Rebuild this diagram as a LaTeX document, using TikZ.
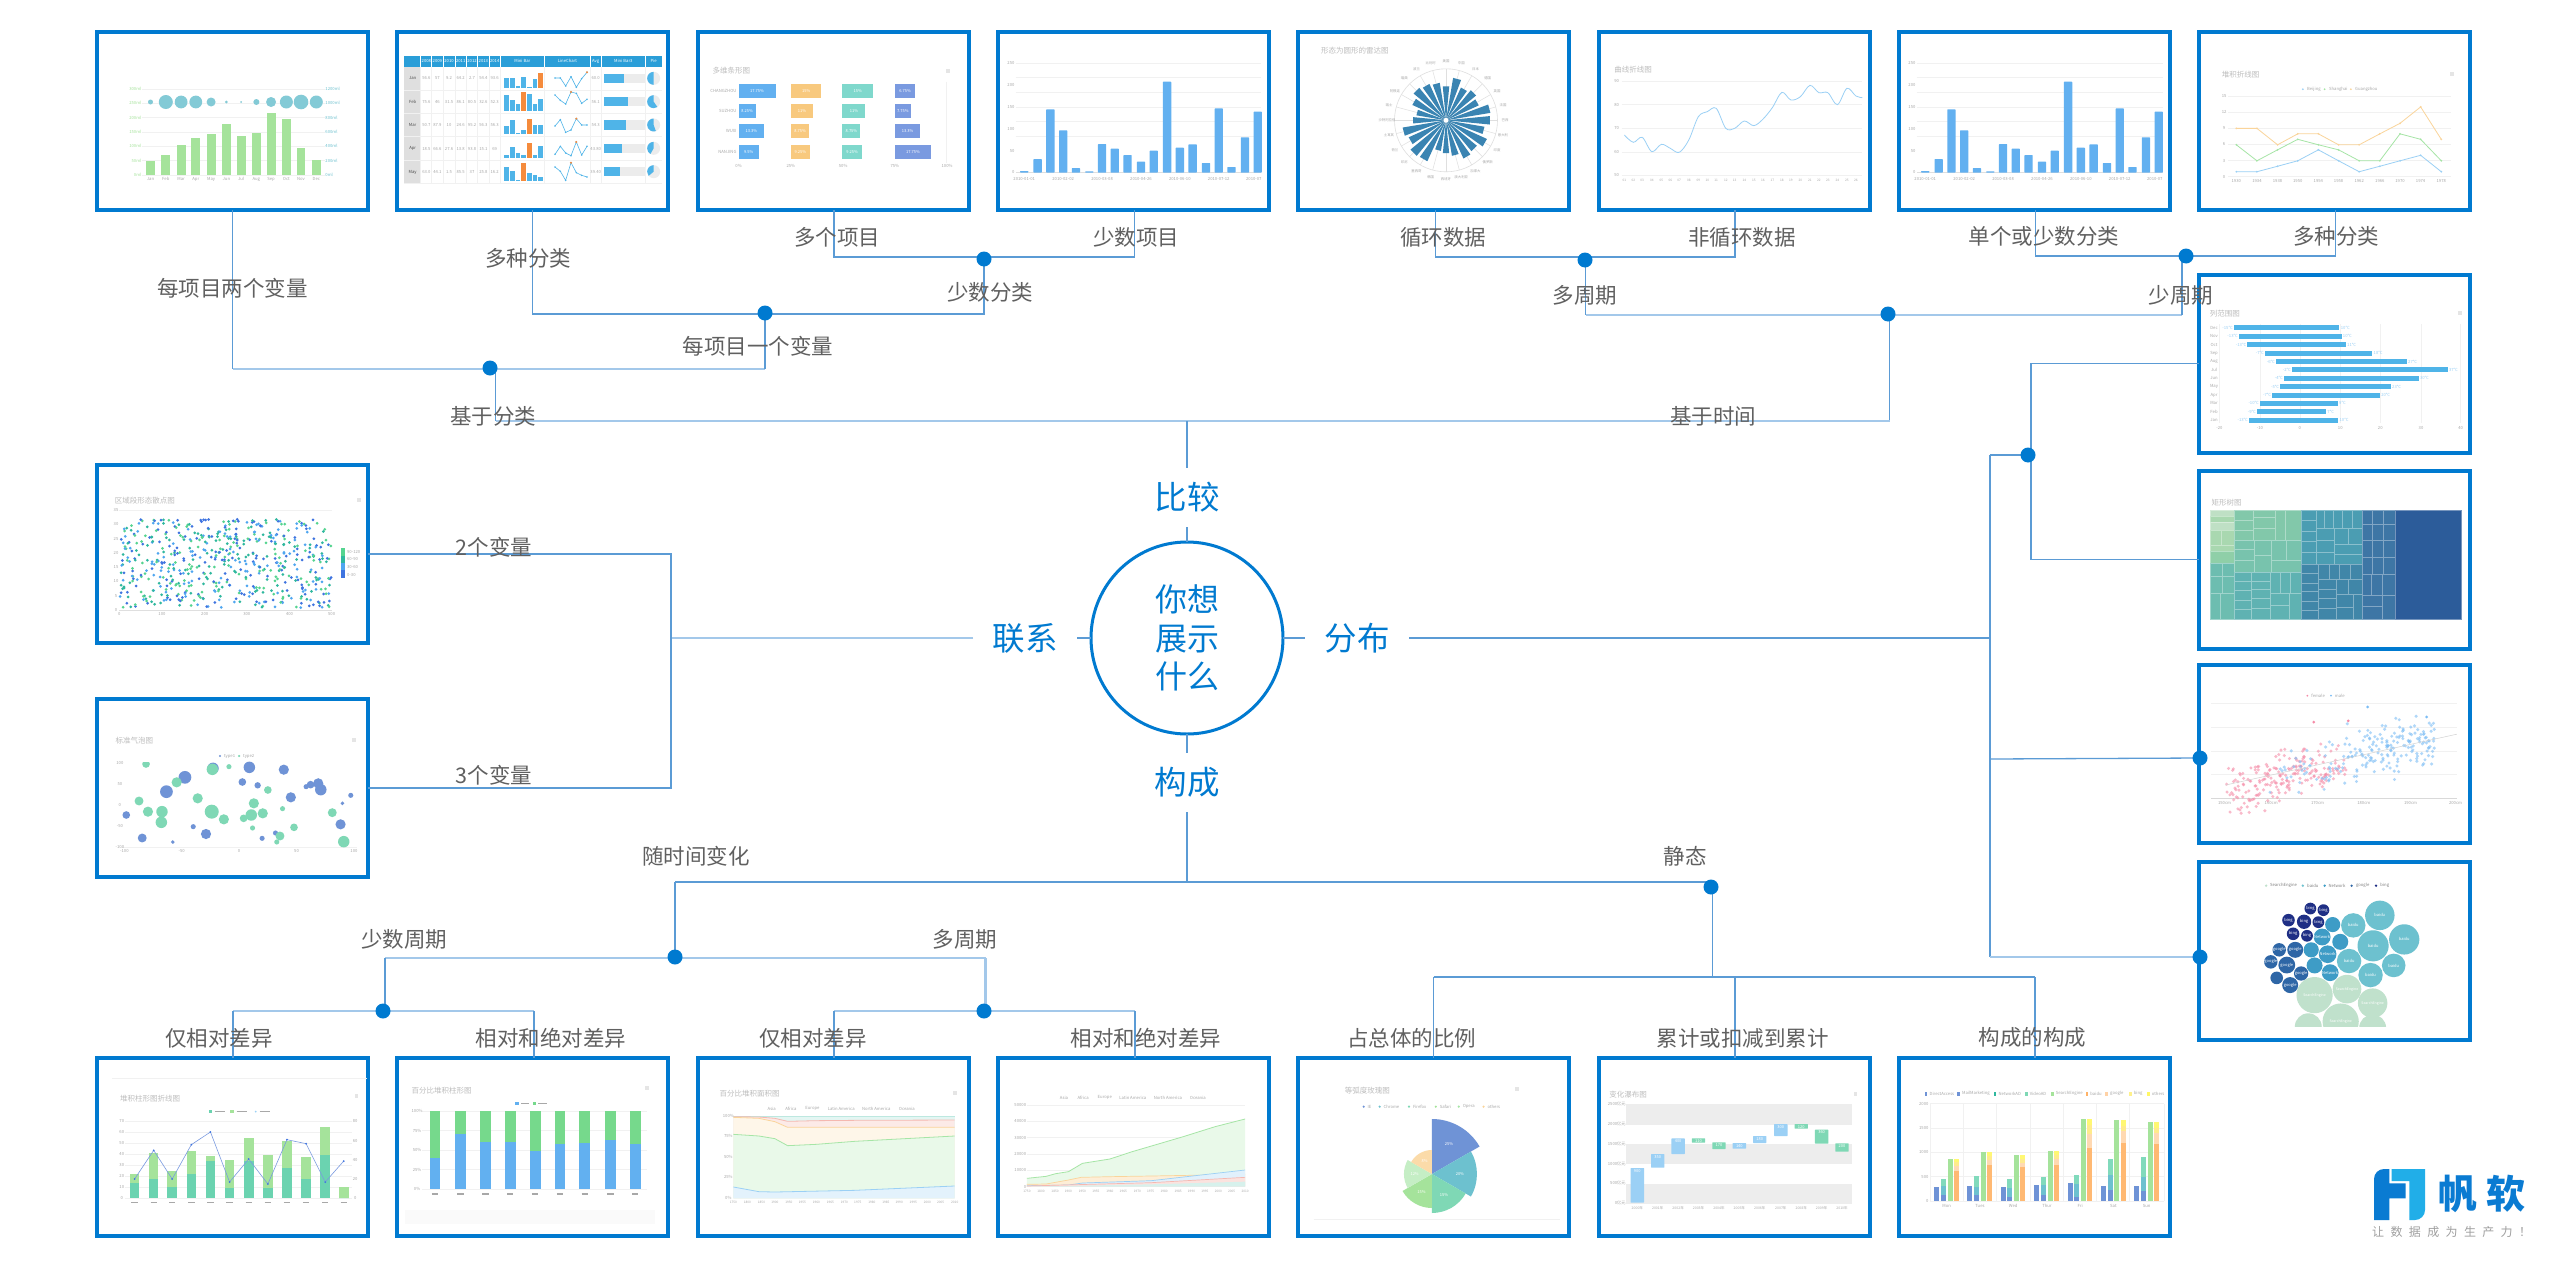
\documentclass[tikz,border=0pt]{standalone}
\usepackage{fontspec}
\usetikzlibrary{calc}
\setmainfont{Noto Sans CJK SC}
\definecolor{mainb}{HTML}{007AD0}
\definecolor{lineb}{HTML}{5B9BD5}
\definecolor{softb}{HTML}{A3C8EA}
\definecolor{labg}{HTML}{606060}
\definecolor{gridg}{HTML}{F1F1F1}
\definecolor{tickg}{HTML}{A8A8A8}
\definecolor{ttlg}{HTML}{BDBDBD}
\definecolor{gbar}{HTML}{A5E39B}
\definecolor{tbar}{HTML}{6BD3B0}
\definecolor{bbar}{HTML}{62B0F0}
\definecolor{obar}{HTML}{F58B3C}
\definecolor{yelbar}{HTML}{F8C97E}
\definecolor{cbar}{HTML}{7FD8CC}
\definecolor{pbar}{HTML}{7A9AE0}
\definecolor{tblb}{HTML}{2A9ED8}
\definecolor{cellb}{HTML}{4FB4E8}
\definecolor{roseb}{HTML}{3A84B2}
\definecolor{lblue}{HTML}{9BD0F5}
\definecolor{lgreen}{HTML}{A6E5A6}
\definecolor{lorange}{HTML}{FAD49A}
\definecolor{lpink}{HTML}{F5B8B0}
\definecolor{lteal}{HTML}{BDE8E0}
\definecolor{s1}{HTML}{3F74E0}
\definecolor{s2}{HTML}{4FA6F0}
\definecolor{s3}{HTML}{55D490}
\definecolor{s4}{HTML}{2FB89E}
\definecolor{bbl}{HTML}{6F93D6}
\definecolor{bgr}{HTML}{7FD8B5}
\definecolor{c1}{HTML}{C0E1CC}
\definecolor{c2}{HTML}{6DC1CF}
\definecolor{c3}{HTML}{3E9CC6}
\definecolor{c4}{HTML}{2E66A6}
\definecolor{c5}{HTML}{1F2F85}
\definecolor{logod}{HTML}{0A7BD2}
\definecolor{logol}{HTML}{21AEE8}
\definecolor{pinkp}{HTML}{F58CA8}
\definecolor{bluep}{HTML}{7CBDF5}
\definecolor{gstack}{HTML}{76D98C}
\tikzset{
  boxn/.style={draw=mainb,line width=4pt,fill=white,minimum width=271pt,minimum height=178pt,inner sep=0pt,outer sep=0pt},
  conn/.style={draw=lineb,line width=1.3pt},
  soft/.style={draw=softb,line width=2.4pt},
  dotn/.style={circle,fill=mainb,minimum size=15pt,inner sep=0pt,outer sep=0pt},
  lab/.style={text=labg,font=\fontsize{21.5}{24}\selectfont,inner sep=0pt},
  dirn/.style={text=mainb,font=\fontsize{32.5}{36}\selectfont,inner sep=0pt,outer sep=0pt,minimum width=104pt,minimum height=59pt},
  hubn/.style={circle,draw=mainb,line width=3pt,minimum size=192pt,inner sep=0pt,outer sep=0pt,text=mainb,align=center,font=\fontsize{32}{38.5}\selectfont},
  tl/.style={text=tickg,font=\fontsize{4.2}{5}\selectfont,inner sep=0pt},
  tw/.style={text=white,font=\fontsize{4}{5}\selectfont,inner sep=0pt},
  ttl/.style={text=ttlg,font=\fontsize{7.5}{9}\selectfont,inner sep=0pt,anchor=west},
  fineg/.style={draw=gridg,line width=0.7pt},
  zA/.style={x=0.63775pt,y=-0.33333pt},
  zB/.style={x=0.42088pt,y=-0.42088pt},
  zC/.style={x=0.42088pt,y=-0.40080pt},
  zT/.style={x=0.33333pt,y=-0.33333pt}
}
\newcommand{\mybars}{%
  \foreach \g in {189,233,277,321,365,409}{\draw[fineg] (25,\g) -- (410,\g);}
  \draw[draw=gray!25,line width=.8pt] (25,518) -- (410,518);
  \foreach \x/\t in {38/513,59/477,79/328,99/391,119/504,140/514,160/432,180/446,200/465,221/485,241/452,262/245,282/443,302/433,323/489,343/325,363/501,384/412,404/335}{
    \fill[bbar,rounded corners=.6pt] (\x-6.5,518) rectangle (\x+6.5,\t);}
  \foreach \y/\s in {189/250,255/200,321/150,387/100,453/50,517/0}{\node[tl,anchor=east] at (23,\y) {\s};}
  \foreach \x/\s in {38/2010-01-01,99/2010-02-02,160/2010-03-08,221/2010-04-26,282/2010-06-10,343/2010-07-12,398/2010-07}{\node[tl] at (\x,536) {\s};}
}
\begin{document}
\begin{tikzpicture}[x=1pt,y=-1pt]
\useasboundingbox (0,0) rectangle (2560,1269);
\fill[white] (0,0) rectangle (2560,1269);

% ---------- chart frames ----------
\node[boxn] (t1) at (232.5,121) {};
\node[boxn] (t2) at (532.5,121) {};
\node[boxn] (t3) at (833.5,121) {};
\node[boxn] (t4) at (1133.5,121) {};
\node[boxn] (t5) at (1433.5,121) {};
\node[boxn] (t6) at (1734.5,121) {};
\node[boxn] (t7) at (2034.5,121) {};
\node[boxn] (t8) at (2334.5,121) {};
\node[boxn] (r1) at (2334.5,363.5) {};
\node[boxn] (r2) at (2334.5,559.5) {};
\node[boxn] (r3) at (2334.5,753.5) {};
\node[boxn] (r4) at (2334.5,950.5) {};
\node[boxn] (l1) at (232.5,554) {};
\node[boxn] (l2) at (232.5,788) {};
\node[boxn] (b1) at (232.5,1146.5) {};
\node[boxn] (b2) at (532.5,1146.5) {};
\node[boxn] (b3) at (833.5,1146.5) {};
\node[boxn] (b4) at (1133.5,1146.5) {};
\node[boxn] (b5) at (1433.5,1146.5) {};
\node[boxn] (b6) at (1734.5,1146.5) {};
\node[boxn] (b7) at (2034.5,1146.5) {};

% ---------- centre ----------
\node[hubn] (hub) at (1187,638) {你想\\展示\\什么};
\node[dirn] (cmp) at (1187,497.5) {比较};
\node[dirn] (cps) at (1187,782.5) {构成};
\node[dirn] (rel) at (1025,638) {联系};
\node[dirn] (dis) at (1357,638) {分布};

% ---------- corner coordinates ----------
\coordinate (d1) at (490,368);
\coordinate (d2) at (765,313);
\coordinate (d3) at (984,259);
\coordinate (d4) at (1585,260);
\coordinate (d5) at (1888,314);
\coordinate (d6) at (2186,256);
\coordinate (d7) at (2028,455);
\coordinate (d8) at (2200,758);
\coordinate (d9) at (2200,957);
\coordinate (d10) at (1711,887);
\coordinate (d11) at (675,957);
\coordinate (d12) at (383,1011);
\coordinate (d13) at (984,1011);
\coordinate (c369a) at (495.5,369);
\coordinate (c369b) at (765,369);
\coordinate (c314a) at (984,314);
\coordinate (c257a) at (834,257);
\coordinate (c257b) at (1134.5,257);
\coordinate (c257c) at (1435.5,257);
\coordinate (c257d) at (1735,257);
\coordinate (c257e) at (2035.5,256);
\coordinate (c257f) at (2335.5,256);
\coordinate (c257g) at (1585.5,257);
\coordinate (c315a) at (1585.5,315);
\coordinate (c315b) at (1889.5,315);
\coordinate (c256a) at (2182,256);
\coordinate (c315c) at (2182,315);
\coordinate (c421a) at (495.5,421);
\coordinate (c421m) at (1187,421);
\coordinate (c421b) at (1889.5,421);
\coordinate (c638a) at (671,638);
\coordinate (c638b) at (1990,638);
\coordinate (c455a) at (1990,455);
\coordinate (c455b) at (2031,455);
\coordinate (c759) at (1990,759);
\coordinate (c957) at (1990,957);
\coordinate (c882a) at (675,882);
\coordinate (c882b) at (1712.5,882);
\coordinate (c958a) at (675,958);
\coordinate (c958b) at (385,958);
\coordinate (c958c) at (985.5,958);
\coordinate (c1011a) at (233,1011);
\coordinate (c1011b) at (534,1011);
\coordinate (c1011c) at (834,1011);
\coordinate (c1011d) at (1135,1011);
\coordinate (c1011e) at (385,1011);
\coordinate (c1011f) at (985.5,1011);
\coordinate (c977a) at (1433.5,977);
\coordinate (c977b) at (2035,977);
\coordinate (c977m) at (1712.5,977);
\coordinate (c977c) at (1735,977);

% ---------- connectors: comparison ----------
\draw[conn] (t1.south) -- (t1.south|-c369a);
\draw[soft] (t1.south|-c369a) -- (c369b);
\draw[conn] (c369b) -- (d2);
\draw[conn] (t2.south) |- (c314a) -- (d3);
\draw[conn] (c257a|-t3.south) -- (c257a) -- (c257b) -- (c257b|-t4.south);
\draw[conn] (c257c|-t5.south) -- (c257c) -- (c257d) -- (c257d|-t6.south);
\draw[conn] (c257e|-t7.south) -- (c257e) -- (c257f) -- (c257f|-t8.south);
\draw[conn] (c257g) -- (c315a);
\draw[soft] (c315a) -- (c315b);
\draw[soft] (c315b) -- (c315c);
\draw[conn] (c256a) -- (c315c);
\draw[conn] (c315b) -- (c421b);
\draw[conn] (c369a) -- (c421a);
\draw[soft] (c421a) -- (c421b);
\draw[conn] (c421m) -- (cmp.north);
\draw[conn] (cmp.south) -- (hub.north);
\draw[conn] (hub.south) -- (cps.north);
\draw[conn] (hub.west) -- (rel.east);
\draw[conn] (hub.east) -- (dis.west);
% relation
\draw[soft] (rel.west) -- (c638a);
\draw[conn] (l1.east) -| (c638a);
\draw[conn] (l2.east) -| (c638a);
% distribution
\draw[conn] (dis.east) -- (c638b);
\draw[conn] (c455a) -- (c957);
\draw[conn] (c455a) -- (c455b);
\draw[conn] (r1.west) -| (c455b);
\draw[conn] (c455b) |- (r2.west);
\draw[conn] (c759) -- (d8);
\draw[soft] (c957) -- (d9);
% composition
\draw[conn] (cps.south) -- (cps.south|-c882a);
\draw[conn] (c882a) -- (c882b) -- (c977m);
\draw[conn] (c882a) -- (c958a);
\draw[soft] (c958b) -- (c958c);
\draw[soft] (c958c) -- (c1011f);
\draw[conn] (c958b) -- (c1011e);
\draw[soft] (c1011a) -- (c1011b);
\draw[soft] (c1011c) -- (c1011d);
\draw[conn] (c1011a) -- (c1011a|-b1.north);
\draw[conn] (c1011b) -- (c1011b|-b2.north);
\draw[conn] (c1011c) -- (c1011c|-b3.north);
\draw[conn] (c1011d) -- (c1011d|-b4.north);
\draw[conn] (c977a) -- (c977b);
\draw[conn] (c977a) -- (b5.north);
\draw[conn] (c977b) -- (c977b|-b7.north);
\draw[conn] (c977c) -- (c977c|-b6.north);

% ---------- t1: bars and bubbles ----------
\begin{scope}[zA]
\foreach \g in {267,310,353,396,439,482}{\draw[fineg] (222,\g) -- (510,\g);}
\draw[fineg] (222,525) -- (510,525);
\foreach \x/\t in {236/483,260/465,284/434,307/414,331/401,355/372,378/408,402/398,425/340,449/358,472/443,496/480}{\fill[gbar] (\x-7,525) rectangle (\x+7,\t);}
\foreach \x/\rr in {236/2.5,260/7,284/6.4,307/6.4,331/4.5,355/1.5,378/1,402/3,425/5,449/6.5,472/7.3,496/6.5}{\fill[c2!85!white] (\x,306) circle (\rr pt);}
\foreach \y/\s in {525/0ml,482/50ml,439/100ml,396/150ml,353/200ml,310/250ml,267/300ml}{\node[tl,text=gbar,anchor=east] at (222,\y) {\s};}
\foreach \y/\s in {525/0ml,482/200ml,439/400ml,396/600ml,353/800ml,310/1000ml,267/1200ml}{\node[tl,text=c2,anchor=west] at (510,\y) {\s};}
\foreach \x/\s in {236/Jan,260/Feb,284/Mar,307/Apr,331/May,355/Jun,378/Jul,402/Aug,425/Sep,449/Oct,472/Nov,496/Dec}{\node[tl] at (\x,538) {\s};}
\end{scope}

% ---------- t2: table ----------
\begin{scope}[shift={(395,40)},zT]
\fill[tblb] (28,47) rectangle (800,80);
\fill[gray!25] (28,80) rectangle (77,432);
\foreach \x in {77,110,145,180,214,248,283,316,448,586,619,752}{\draw[white,line width=.4pt] (\x,47) -- (\x,80); \draw[gridg,line width=.4pt] (\x,80) -- (\x,432);}
\foreach \y in {150,220,290,360,430}{\draw[gridg,line width=.6pt] (28,\y) -- (800,\y);}
\foreach \x/\s in {94/2008,127/2009,162/2010,197/2011,231/2012,265/2013,299/2014,382/Mini Bar,517/LineChart,602/Avg,685/Mini Bar3,776/Pie}{\node[tl,text=white] at (\x,63) {\s};}
\foreach \y/\s in {115/Jan,186/Feb,256/Mar,326/Apr,396/May}{\node[tl,text=black!70] at (53,\y) {\s};}
\foreach \y/\va/\vb/\vc/\vd/\ve/\vf/\vg/\vh in {115/56.6/57/9.2/64.2/2.7/54.4/93.6/60.0,186/75.6/46/31.5/86.1/80.5/32.6/52.3/56.1,256/50.7/87.9/10/24.6/95.2/56.3/56.3/54.3,326/18.5/66.6/27.6/13.8/93.8/15.1/69/43.80,396/63.0/44.1/1.5/85.5/37/25.8/16.2/39.40}{
 \node[tl] at (94,\y) {\va};\node[tl] at (127,\y) {\vb};\node[tl] at (162,\y) {\vc};\node[tl] at (197,\y) {\vd};\node[tl] at (231,\y) {\ve};\node[tl] at (265,\y) {\vf};\node[tl] at (299,\y) {\vg};\node[tl] at (602,\y) {\vh};}
% mini bars
\foreach \bs/\va/\vb/\vc/\vd/\ve/\vf/\vg/\mx/\mh in {143/28/28/5/32/2/26/45/430/45,213/47/32/21/57/52/21/35/379/57,283/24/44/5/12/46/27/27/396/46,353/9/32/14/7/45/8/34/396/45,423/41/29/2/55/24/18/12/379/55}{
 \foreach \x/\hh in {328/\va,345/\vb,362/\vc,379/\vd,396/\ve,413/\vf,430/\vg}{\fill[cellb] (\x,\bs) rectangle (\x+14,\bs-\hh);}
 \fill[obar] (\mx,\bs) rectangle (\mx+14,\bs-\mh);}
% sparklines
\foreach \va/\vb/\vc/\vd/\ve/\vf/\vg in {114/114/138/110/142/116/97,165/181/192/156/160/190/178,258/239/277/270/236/255/255,343/319/339/347/306/345/319,381/394/421/368/398/406/411}{
 \draw[cellb,line width=.6pt] (480,\va) -- (496,\vb) -- (512,\vc) -- (528,\vd) -- (544,\ve) -- (560,\vf) -- (576,\vg);
 \foreach \x/\vv in {480/\va,496/\vb,512/\vc,528/\vd,544/\ve,560/\vf,576/\vg}{\fill[cellb] (\x,\vv) circle (.9pt);}}
\fill[obar] (576,97) circle (1.1pt);\fill[obar] (528,156) circle (1.1pt);\fill[obar] (544,236) circle (1.1pt);\fill[obar] (544,306) circle (1.1pt);\fill[obar] (528,368) circle (1.1pt);
% mini bar 3 and pies
\foreach \y/\w/\sw in {115/59/180,185/70/215,255/66/200,325/53/150,395/48/130}{
 \fill[gray!15] (628,\y-14) rectangle (750,\y+14);
 \fill[cellb] (628,\y-14) rectangle (628+\w,\y+14);
 \fill[gray!15] (776,\y) circle (6.5pt);
 \fill[cellb] (776,\y) -- +(90:6.5pt) arc[start angle=90,delta angle=\sw,radius=6.5pt] -- cycle;}
\end{scope}

% ---------- t3: multi-bar ----------
\begin{scope}[zA]
\node[ttl] at (1117,213) {多维条形图};
\fill[gray!20] (1483,207) rectangle (1489,218);
\draw[fineg] (1484,245) -- (1484,488);
\foreach \y/\s in {273/CHANGZHOU,334/SUZHOU,394/WUXI,455/NANJING}{\node[tl,anchor=east] at (1155,\y) {\s};}
\foreach \x/\s in {1158/0\%,1240/25\%,1322/50\%,1403/75\%,1485/100\%}{\node[tl] at (\x,498) {\s};}
\foreach \y/\va/\vb/\vc/\vd/\sa/\sb/\sc/\sd in {273/58/48/48/32/17.75\%/15\%/15\%/6.75\%,334/27/35/36/25/8.25\%/11\%/11\%/7.75\%,394/40/29/28/40/13.3\%/8.75\%/8.75\%/13.3\%,455/32/30/30/57/9.5\%/9.25\%/9.25\%/17.75\%}{
 \fill[bbar] (1158,\y-21) rectangle (1158+\va,\y+21); \node[tw] at (1158+\va/2,\y) {\sa};
 \fill[yelbar] (1240,\y-21) rectangle (1240+\vb,\y+21); \node[tw] at (1240+\vb/2,\y) {\sb};
 \fill[cbar] (1321,\y-21) rectangle (1321+\vc,\y+21); \node[tw] at (1321+\vc/2,\y) {\sc};
 \fill[pbar] (1403,\y-21) rectangle (1403+\vd,\y+21); \node[tw] at (1403+\vd/2,\y) {\sd};}
\end{scope}

% ---------- t4 and t7: column chart ----------
\begin{scope}[shift={(1000,0)},zA]\mybars\end{scope}
\begin{scope}[shift={(1901,0)},zA]\mybars\end{scope}

% ---------- t5: rose radar ----------
\begin{scope}
\node[ttl] at (1321,51) {形态为圆形的雷达图};
\draw[gray!25,line width=.6pt] (1446,120.3) circle (51.5pt);
\foreach \a in {0,15,...,345}{\draw[gray!25,line width=.5pt] (1446,120.3) -- +({90-\a}:51.5pt);}
\foreach \a/\rr in {0/34,15/43,30/36,45/39,60/36,75/45,90/44,105/39,120/45,135/40,150/42,165/36,180/33,195/31,210/45,225/46,240/41,255/44,270/33,285/30,300/37,315/42,330/40,345/38}{
 \fill[roseb] (1446,120.3) -- +({90-\a+5.5}:\rr pt) -- +({90-\a-5.5}:\rr pt) -- cycle;}
\fill[white] (1446,120.3) circle (2.5pt);
\foreach \a/\s in {0/美国,15/中国,30/日本,45/德国,60/英国,75/法国,90/巴西,105/意大利,120/印度,135/俄罗斯,150/加拿大,165/澳大利亚,180/西班牙,195/韩国,210/墨西哥,225/印尼,240/荷兰,255/土耳其,270/沙特阿拉伯,285/瑞士,300/阿根廷,315/瑞典,330/波兰,345/比利时}{
 \node[tl,font=\fontsize{3.4}{4}\selectfont] at ($(1446,120.3)+({90-\a}:59pt)$) {\s};}
\end{scope}

% ---------- t6: curve ----------
\begin{scope}[shift={(1000,0)},zA]
\node[ttl] at (963,210) {曲线折线图};
\foreach \y/\s in {243/90,314/80,385/70,456/60,526/50}{\draw[fineg] (975,\y) -- (1352,\y);\node[tl] at (967,\y) {\s};}
\draw[lblue,line width=.8pt] plot[smooth,tension=.55] coordinates {(979,405)(993,427)(1007,412)(1022,455)(1037,433)(1051,445)(1065,457)(1080,420)(1095,350)(1109,335)(1123,325)(1138,385)(1152,385)(1167,363)(1182,377)(1196,358)(1211,323)(1226,277)(1240,300)(1255,290)(1270,256)(1284,278)(1298,278)(1313,314)(1328,265)(1342,288)(1352,293)};
\foreach \x/\s in {979/01,993/02,1007/03,1022/04,1037/05,1051/06,1065/07,1080/08,1095/09,1109/10,1123/11,1138/12,1152/13,1167/14,1182/15,1196/16,1211/17,1226/18,1240/19,1255/20,1270/21,1284/22,1298/23,1313/24,1328/25,1342/26}{\node[tl,font=\fontsize{3.2}{4}\selectfont] at (\x,540) {\s};}
\end{scope}

% ---------- t8: stacked lines ----------
\begin{scope}[shift={(1900,0)},zB]
\node[ttl] at (764,177) {堆积折线图};
\fill[gray!20] (1307,171) rectangle (1317,181);
\foreach \y/\s in {229/15,267/12,305/9,343/6,382/3,420/0}{\draw[fineg] (780,\y) -- (1308,\y);\node[tl] at (770,\y) {\s};}
\fill[lblue] (957,212) circle (1pt);\node[tl,anchor=west] at (967,212) {Beijing};
\fill[lgreen] (1009,212) circle (1pt);\node[tl,anchor=west] at (1019,212) {Shanghai};
\fill[lorange] (1071,212) circle (1pt);\node[tl,anchor=west] at (1081,212) {Guangzhou};
\draw[lblue,line width=.8pt] (799,408) -- (848,408) -- (897,395) -- (945,382) -- (994,356) -- (1042,382) -- (1091,408) -- (1140,395) -- (1188,382) -- (1237,369) -- (1286,408);
\draw[lgreen,line width=.8pt] (799,344) -- (848,382) -- (897,356) -- (945,331) -- (994,344) -- (1042,356) -- (1091,382) -- (1140,382) -- (1188,318) -- (1237,331) -- (1286,382);
\draw[lorange,line width=.8pt] (799,305) -- (848,305) -- (897,344) -- (945,318) -- (994,318) -- (1042,344) -- (1091,344) -- (1140,318) -- (1188,293) -- (1237,254) -- (1286,331);
\foreach \x/\s/\pa/\pb/\pc in {799/1930/408/344/305,848/1934/408/382/305,897/1938/395/356/344,945/1950/382/331/318,994/1954/356/344/318,1042/1958/382/356/344,1091/1962/408/382/344,1140/1966/395/382/318,1188/1970/382/318/293,1237/1974/369/331/254,1286/1978/408/382/331}{
 \node[tl] at (\x,430) {\s};
 \fill[lblue] (\x,\pa) circle (1pt);\fill[lgreen] (\x,\pb) circle (1pt);\fill[lorange] (\x,\pc) circle (1pt);}
\end{scope}

% ---------- r1: range bars ----------
\begin{scope}[shift={(1900,0)},zB]
\node[ttl] at (736,745) {列范围图};
\fill[gray!20] (1325,739) rectangle (1335,749);
\foreach \x/\s in {759/-20,855/-10,950/0,1046/10,1141/20,1238/30,1332/40}{\draw[fineg] (\x,770) -- (\x,1006);\node[tl] at (\x,1018) {\s};}
\foreach \y/\m/\va/\vb/\sa/\sb in {779/Dec/793/1044/-15/10,799/Nov/805/1049/-13/10,819/Oct/825/1059/-13/11,839/Sep/867/1122/-7/18,859/Aug/893/1204/-6/27,879/Jul/931/1301/-2/37,899/Jun/912/1232/-4/30,919/May/903/1166/-5/23,939/Apr/884/1140/-7/20,958/Mar/855/1040/-10/9,978/Feb/848/1012/-9/7,998/Jan/829/1041/-13/10}{
 \fill[cellb] (\va,\y-6) rectangle (\vb,\y+6);
 \node[tl] at (746,\y) {\m};
 \node[tl,text=lblue,anchor=east] at (\va-2,\y) {\sa ℃};
 \node[tl,text=lblue,anchor=west] at (\vb+3,\y) {\sb ℃};}
\end{scope}

% ---------- r2: treemap ----------
\begin{scope}[shift={(1900,0)},zB]
\node[ttl] at (740,1194) {矩形树图};
\foreach \xa/\ya/\xb/\yb/\col in {
 736/1212/795/1227/BFE0C5,736/1227/795/1241/A9D8B0,736/1241/795/1260/BFE0C5,736/1260/762/1296/A9D8B0,762/1260/795/1296/A9D8B0,736/1296/795/1310/A9D8B0,736/1310/795/1337/8FCFA8,
 736/1337/765/1370/6DBDB0,765/1337/795/1370/6DBDB0,736/1370/765/1410/6DBDB0,765/1370/795/1410/6DBDB0,736/1410/760/1471/6DBDB0,760/1410/795/1471/6DBDB0,
 795/1212/838/1236/82C8AA,795/1236/838/1260/82C8AA,795/1260/838/1284/82C8AA,838/1212/892/1229/82C8AA,838/1229/892/1255/82C8AA,838/1255/892/1284/82C8AA,892/1212/916/1284/82C8AA,916/1212/954/1284/82C8AA,
 795/1284/842/1304/78C3AD,795/1304/842/1331/78C3AD,795/1331/842/1359/78C3AD,842/1284/883/1318/78C3AD,842/1318/883/1359/78C3AD,883/1284/918/1331/78C3AD,918/1284/954/1331/78C3AD,883/1331/954/1359/78C3AD,
 795/1359/835/1380/5FB2B2,795/1380/835/1403/5FB2B2,795/1403/835/1425/5FB2B2,795/1425/835/1447/5FB2B2,795/1447/835/1471/5FB2B2,835/1359/880/1380/5FB2B2,835/1380/880/1400/5FB2B2,835/1400/880/1421/5FB2B2,835/1421/880/1445/5FB2B2,835/1445/880/1471/5FB2B2,880/1359/904/1410/5FB2B2,904/1359/928/1410/5FB2B2,928/1359/954/1410/5FB2B2,880/1410/924/1438/5FB2B2,880/1438/924/1471/5FB2B2,924/1410/954/1471/5FB2B2,
 954/1212/988/1237/4B9DB2,954/1237/988/1262/4B9DB2,954/1262/988/1287/4B9DB2,954/1287/988/1313/4B9DB2,954/1313/988/1340/4B9DB2,988/1212/1008/1256/4B9DB2,1008/1212/1030/1256/4B9DB2,1030/1212/1051/1256/4B9DB2,1051/1212/1074/1256/4B9DB2,1074/1212/1098/1256/4B9DB2,988/1256/1031/1283/4B9DB2,988/1283/1031/1311/4B9DB2,988/1311/1031/1340/4B9DB2,1031/1256/1064/1294/4B9DB2,1064/1256/1098/1294/4B9DB2,1031/1294/1098/1317/4B9DB2,1031/1317/1098/1340/4B9DB2,
 954/1340/994/1363/4086A8,954/1363/994/1385/4086A8,954/1385/994/1405/4086A8,954/1405/994/1428/4086A8,954/1428/994/1450/4086A8,954/1450/994/1471/4086A8,994/1340/1019/1377/4086A8,1019/1340/1044/1377/4086A8,1044/1340/1070/1377/4086A8,1070/1340/1098/1377/4086A8,994/1377/1037/1399/4086A8,994/1399/1037/1421/4086A8,994/1421/1037/1445/4086A8,994/1445/1037/1471/4086A8,1037/1377/1066/1412/4086A8,1066/1377/1098/1412/4086A8,1037/1412/1077/1442/4086A8,1037/1442/1077/1471/4086A8,1077/1412/1098/1471/4086A8,
 1098/1212/1122/1246/3E76A5,1122/1212/1148/1246/3E76A5,1148/1212/1176/1246/3E76A5,1098/1246/1122/1284/3E76A5,1122/1246/1148/1284/3E76A5,1148/1246/1176/1284/3E76A5,1098/1284/1122/1323/3E76A5,1122/1284/1148/1323/3E76A5,1148/1284/1176/1323/3E76A5,1098/1323/1122/1365/3E76A5,1122/1323/1148/1365/3E76A5,1148/1323/1176/1365/3E76A5,1098/1365/1120/1413/3E76A5,1120/1365/1146/1413/3E76A5,1146/1365/1176/1413/3E76A5,1098/1413/1146/1441/3E76A5,1098/1441/1146/1471/3E76A5,1146/1413/1176/1471/3E76A5,
 1176/1212/1333/1471/2C5C9A}{
 \definecolor{tmc}{HTML}{\col}
 \path[fill=tmc,draw=tmc!65!white,line width=.4pt] (\xa,\ya) rectangle (\xb,\yb);}
\end{scope}

% ---------- r3: scatter with trend ----------
\begin{scope}[shift={(1900,640)},zC]
\fill[pinkp] (968,139) circle (1pt);\node[tl,anchor=west] at (977,139) {female};
\fill[bluep] (1024,139) circle (1pt);\node[tl,anchor=west] at (1033,139) {male};
\foreach \y in {158,218,277,335}{\draw[fineg] (740,\y) -- (1323,\y);}
\draw[gray!30,line width=.6pt] (740,395) -- (1323,395);
\foreach \x/\s in {771/150cm,882/160cm,992/170cm,1102/180cm,1213/190cm,1320/200cm}{\node[tl] at (\x,406) {\s};}
\pgfmathsetseed{7}
\foreach \i in {1,...,210}{
 \pgfmathsetmacro\px{775+285*rnd}
 \pgfmathsetmacro\py{375-(\px-773)*0.22+(rnd+rnd+rnd-1.5)*58}
 \fill[pinkp,fill opacity=.6] (\px,\py) circle (1.7pt);}
\foreach \i in {1,...,210}{
 \pgfmathsetmacro\px{860+410*sqrt(rnd)}
 \pgfmathsetmacro\py{355-(\px-773)*0.22+(rnd+rnd+rnd-1.5)*65}
 \fill[bluep,fill opacity=.6] (\px,\py) circle (1.7pt);}
\draw[gray!35,line width=.5pt] (773,362) -- (1323,235);
\fill[pinkp] (983,205) circle (1.5pt);\fill[pinkp] (1065,202) circle (1.5pt);\fill[bluep] (1111,167) circle (1.5pt);\fill[bluep] (1251,192) circle (1.5pt);
\end{scope}

% ---------- r4: packed bubbles ----------
\begin{scope}[shift={(1900,640)},zC]
\foreach \x/\tx/\s/\col in {870/879/SearchEngine/c1,957/967/baidu/c2,1009/1018/Network/c3,1073/1083/google/c4,1131/1141/bing/c5}{
 \fill[\col] (\x,613) circle (1.3pt);\node[tl,anchor=west,text=gray] at (\tx,613) {\s};}
\begin{scope}
\clip (840,640) rectangle (1260,965);
\foreach \x/\y/\rr in {985/886/43,1062/871/34,1123/906/35,1047/952/43,970/965/32,1123/968/32}{\fill[c1] (\x,\y) circle ({\rr*0.4209 pt});}
\foreach \x/\y in {985/886,1062/871,1123/906,1047/952}{\node[tw,font=\fontsize{3.5}{4}\selectfont] at (\x,\y) {SearchEngine};}
\end{scope}
\foreach \x/\y/\rr in {1140/687/35,1077/712/29,1198/747/36,1124/763/37,1067/801/29,1173/812/28,1118/836/29}{\fill[c2] (\x,\y) circle ({\rr*0.4209 pt});\node[tw] at (\x,\y) {baidu};}
\foreach \x/\y/\rr/\s in {1028/710/18/,1003/741/20/Network,1046/753/19/,977/773/18/,1016/784/21/Network,985/812/19/,1022/830/20/Network}{\fill[c3] (\x,\y) circle ({\rr*0.4209 pt});\node[tw] at (\x,\y) {\s};}
\foreach \x/\y/\rr/\s in {901/773/16/google,939/773/19/google,881/803/16/google,919/811/20/google,953/832/17/google,895/843/15/,927/861/19/google}{\fill[c4] (\x,\y) circle ({\rr*0.4209 pt});\node[tw] at (\x,\y) {\s};}
\foreach \x/\y/\rr in {975/670/14,1006/674/14,923/699/15,960/703/17,994/704/14,934/733/15,967/738/14}{\fill[c5] (\x,\y) circle ({\rr*0.4209 pt});\node[tw] at (\x,\y) {bing};}
\end{scope}

% ---------- l1: scatter ----------
\begin{scope}[shift={(0,440)},zA]
\node[ttl] at (180,181) {区域段形态散点图};
\fill[gray!20] (560,173) rectangle (566,186);
\draw[fineg] (187,211) -- (520,211);
\draw[gray!25,line width=.5pt] (187,510) -- (520,510);
\foreach \y/\s in {211/35,253/30,296/25,339/20,381/15,424/10,467/5,510/0}{\node[tl] at (182,\y) {\s};}
\foreach \x/\s in {187/0,254/100,321/200,387/300,454/400,520/500}{\node[tl] at (\x,523) {\s};}
\pgfmathsetseed{11}
\foreach \i in {1,...,600}{
 \pgfmathsetmacro\px{188+332*rnd}
 \pgfmathsetmacro\py{238+265*rnd}
 \pgfmathtruncatemacro\cc{1+int(rnd*3.999)}
 \fill[s\cc] (\px,\py) circle (1.5pt);}
\fill[s3] (535,325) rectangle (541,347);\fill[s4] (535,347) rectangle (541,369);\fill[s2] (535,369) rectangle (541,391);\fill[s1] (535,391) rectangle (541,413);
\foreach \y/\s in {335/90-120,358/60-90,381/30-60,404/0-30}{\node[tl,anchor=west] at (544,\y) {\s};}
\end{scope}

% ---------- l2: bubbles ----------
\begin{scope}[shift={(0,440)},zA]
\node[ttl] at (181,903) {标准气泡图};
\fill[gray!20] (552,895) rectangle (558,907);
\fill[bbl] (345,948) circle (1.2pt);\node[tl,anchor=west] at (351,948) {type1};
\fill[bgr] (375,948) circle (1.2pt);\node[tl,anchor=west] at (381,948) {type2};
\draw[fineg] (190,1222) -- (560,1222);
\foreach \y/\s in {970/100,1033/50,1096/0,1158/-50,1221/-100}{\node[tl] at (188,\y) {\s};}
\foreach \x/\s in {195/-100,285/-50,375/0,465/50,555/100}{\node[tl] at (\x,1234) {\s};}
\foreach \x/\y/\rr in {290/1012/10,261/1055/10,391/982/9,445/989/8,380/1026/6,404/1036/5,480/1040/4,487/1034/6,499/1030/8,503/1049/9,456/1072/8,550/1066/4,537/1090/3,198/1125/6,303/1160/4,534/1153/8,223/1194/7,323/1182/8,271/1206/3,411/1195/4,432/1179/4,334/985/9}{\fill[bbl] (\x,\y) circle ({\rr/1.568 pt});}
\begin{scope}
\clip (180,968) rectangle (570,1225);
\foreach \x/\y/\rr in {229/972/6,333/988/9,277/1027/8,359/980/4,420/1050/6,218/1083/7,310/1075/8,232/1115/8,254/1115/9,253/1147/9,332/1115/11,351/1138/8,398/1090/8,382/1135/6,394/1125/9,412/1120/8,443/1106/4,396/1164/4,461/1162/6,439/1188/7,434/1206/4,521/1118/7,539/1205/9}{\fill[bgr] (\x,\y) circle ({\rr/1.568 pt});}
\end{scope}
\end{scope}

% ---------- b1: stacked columns with line ----------
\begin{scope}[shift={(0,900)},zA]
\draw[fineg] (176,535) -- (575,535);
\node[ttl] at (188,596) {堆积柱形图折线图};
\fill[gray!20] (556,582) rectangle (562,594);
\fill[tbar] (327,630) rectangle (333,640);
\fill[gbar] (361,630) rectangle (367,640);
\fill[lblue] (401,635) circle (1pt);
\foreach \x in {337,371,407}{\draw[tickg,line width=1.1pt] (\x,635) -- (\x+16,635);}
\foreach \y/\s in {664/70,697/60,730/50,763/40,796/30,829/20,862/10,894/0}{\draw[fineg] (196,\y) -- (552,\y);\node[tl] at (191,\y) {\s};}
\foreach \y/\s in {664/80,722/60,779/40,837/20,894/0}{\node[tl] at (557,\y) {\s};}
\foreach \x/\va/\vb in {211/850/823,241/837/760,270/862/813,300/823/754,330/783/767,360/863/780,390/782/714,420/863/764,450/803/722,480/836/770,510/764/682,539/894/862}{
 \fill[gbar] (\x-7.5,894) rectangle (\x+7.5,\vb);
 \fill[tbar] (\x-7.5,894) rectangle (\x+7.5,\va);
 \draw[tickg,line width=1.1pt] (\x-5,908) -- (\x+5,908);}
\draw[pbar,line width=.6pt] (211,837) -- (241,751) -- (270,837) -- (300,734) -- (330,696) -- (360,846) -- (390,777) -- (420,852) -- (450,719) -- (480,731) -- (510,846) -- (539,783);
\foreach \x/\y in {211/837,241/751,270/837,300/734,330/696,360/846,390/777,420/852,450/719,480/731,510/846,539/783}{\fill[s1] (\x,\y) circle (1pt);}
\end{scope}

% ---------- b2: percent stacked columns ----------
\begin{scope}[shift={(0,900)},zA]
\node[ttl] at (645,571) {百分比堆积柱形图};
\fill[gray!20] (1011,558) rectangle (1017,570);
\fill[bbar] (808,606) rectangle (814,616);\draw[tickg,line width=1.1pt] (817,611) -- (830,611);
\fill[gstack] (835,606) rectangle (841,616);\draw[tickg,line width=1.1pt] (844,611) -- (857,611);
\foreach \y/\s in {634/100\%,692/75\%,751/50\%,809/25\%,868/0\%}{\draw[fineg] (662,\y) -- (1015,\y);\node[tl] at (654,\y) {\s};}
\foreach \x/\va in {682/775,722/702,761/725,800/725,839/752,878/733,917/730,957/719,996/732}{
 \fill[gstack] (\x-8.5,634) rectangle (\x+8.5,\va);
 \fill[bbar] (\x-8.5,868) rectangle (\x+8.5,\va);
 \draw[tickg,line width=1.1pt] (\x-5,882) -- (\x+5,882);}
\fill[gray!4] (635,930) rectangle (1027,972);
\end{scope}

% ---------- b3: percent area ----------
\begin{scope}[shift={(0,900)},zA]
\node[ttl] at (1128,581) {百分比堆积面积图};
\fill[gray!20] (1495,573) rectangle (1501,585);
\foreach \x/\s in {1210/Asia,1240/Africa,1274/Europe,1319/Latin America,1374/North America,1422/Oceania}{\node[tl] at (\x,626) {\s};}
\foreach \y/\s in {648/100\%,709/75\%,771/50\%,832/25\%,895/0\%}{\node[tl] at (1142,\y) {\s};}
\fill[lteal!40] (1150,895) rectangle (1497,648);
\fill[lpink!30] (1150,895) -- (1150,650) -- (1190,651) -- (1215,655) -- (1235,664) -- (1280,662) -- (1340,661) -- (1497,660) -- (1497,895) -- cycle;
\fill[lorange!22] (1150,895) -- (1150,652) -- (1190,655) -- (1215,665) -- (1235,682) -- (1497,682) -- (1497,895) -- cycle;
\fill[lgreen!25] (1150,895) -- (1150,703) -- (1190,708) -- (1215,716) -- (1235,737) -- (1280,733) -- (1340,724) -- (1497,708) -- (1497,895) -- cycle;
\fill[lblue!28] (1150,895) -- (1150,861) -- (1190,875) -- (1215,876) -- (1340,871) -- (1497,858) -- (1497,895) -- cycle;
\draw[lteal,line width=.6pt] (1150,648) -- (1497,648);
\draw[lpink,line width=.8pt] (1150,650) -- (1190,651) -- (1215,655) -- (1235,664) -- (1280,662) -- (1340,661) -- (1497,660);
\draw[lorange,line width=.8pt] (1150,652) -- (1190,655) -- (1215,665) -- (1235,682) -- (1497,682);
\draw[lgreen,line width=.8pt] (1150,703) -- (1190,708) -- (1215,716) -- (1235,737) -- (1280,733) -- (1340,724) -- (1497,708);
\draw[lblue,line width=.8pt] (1150,861) -- (1190,875) -- (1215,876) -- (1340,871) -- (1497,858);
\foreach \x/\s in {1150/1750,1172/1800,1194/1850,1215/1900,1237/1950,1258/1955,1280/1960,1302/1965,1324/1970,1345/1975,1367/1980,1389/1985,1410/1990,1432/1995,1454/2000,1475/2005,1497/2010}{\node[tl,font=\fontsize{3.2}{4}\selectfont] at (\x,907) {\s};}
\end{scope}

% ---------- b4: area ----------
\begin{scope}[shift={(960,900)},zA]
\foreach \x/\s in {163/Asia,193/Africa,227/Europe,271/Latin America,326/North America,373/Oceania}{\node[tl] at (\x,593) {\s};}
\foreach \y/\s in {615/50000,664/40000,713/30000,762/20000,811/10000,860/0}{\draw[fineg] (105,\y) -- (447,\y);\node[tl,anchor=east] at (104,\y) {\s};}
\fill[lgreen!25] (105,860) -- (105,835) -- (135,829) -- (150,821) -- (170,815) -- (192,790) -- (235,777) -- (270,755) -- (350,710) -- (400,680) -- (447,657) -- (447,860) -- cycle;
\draw[lgreen,line width=.8pt] (105,835) -- (135,829) -- (150,821) -- (170,815) -- (192,790) -- (235,777) -- (270,755) -- (350,710) -- (400,680) -- (447,657);
\fill[lorange!40] (105,860) -- (105,853) -- (135,852) -- (170,840) -- (190,832) -- (235,830) -- (300,828) -- (447,823) -- (447,860) -- cycle;
\draw[lorange,line width=.7pt] (105,853) -- (135,852) -- (170,840) -- (190,832) -- (235,830) -- (300,828) -- (447,823);
\fill[lblue!30] (105,860) -- (105,857) -- (170,855) -- (192,849) -- (300,842) -- (447,810) -- (447,860) -- cycle;
\draw[lblue,line width=.7pt] (105,857) -- (170,855) -- (192,849) -- (300,842) -- (447,810);
\fill[lpink!40] (105,860) -- (105,858) -- (300,848) -- (447,832) -- (447,860) -- cycle;
\draw[lpink,line width=.7pt] (105,858) -- (300,848) -- (447,832);
\fill[lteal!60] (105,860) -- (300,853) -- (447,845) -- (447,860) -- cycle;
\foreach \x/\s in {105/1750,127/1800,149/1850,170/1900,192/1950,213/1955,235/1960,256/1965,278/1970,299/1975,320/1980,342/1985,363/1990,384/1995,405/2000,426/2005,447/2010}{\node[tl,font=\fontsize{3.2}{4}\selectfont] at (\x,873) {\s};}
\end{scope}

% ---------- b5: pie rose ----------
\begin{scope}[shift={(960,900)},zA]
\node[ttl] at (603,573) {等弧度玫瑰图};
\fill[gray!20] (870,560) rectangle (876,572);
\foreach \x/\s/\col in {633/IE/bbl,658/Chrome/c2,704/Firefox/bgr,746/Safari/gbar,782/Opera/lgreen,821/others/lorange}{\fill[\col] (\x,620) circle (1.2pt);\node[tl,anchor=west] at (\x+6,620) {\s};}
\draw[fineg] (555,958) -- (940,958);
\foreach \va/\vb/\rr/\col/\s in {0/60/55/bbl/25\%,60/120/45/c2/20\%,120/180/39/bgr/15\%,180/240/34/gbar/15\%,240/300/28/lgreen!65!white/12\%,300/360/24/lorange!85!white/8\%}{
 \fill[\col] (740,822) -- +({90-\va}:\rr pt) arc[start angle={90-\va},delta angle={\va-\vb},radius=\rr pt] -- cycle;
 \node[tw] at ($(740,822)+({90-(\va+\vb)/2}:{\rr*0.62 pt})$) {\s};}
\end{scope}

% ---------- b6: waterfall ----------
\begin{scope}[shift={(960,900)},zA]
\node[ttl] at (1018,584) {变化瀑布图};
\fill[gray!20] (1401,576) rectangle (1407,588);
\foreach \va/\vb in {613/675,732/792,851/912}{\fill[gray!14] (1045,\va) rectangle (1399,\vb);}
\foreach \y/\s in {613/2500亿元,672/2000亿元,732/1500亿元,791/1000亿元,850/500亿元,909/0亿元}{\node[tl,anchor=east] at (1044,\y) {\s};}
\foreach \x/\va/\vb/\col/\s in {1062/804/908/lblue/900,1094/762/803/lblue/350,1126/715/762/lblue/400,1158/715/728/bgr/110,1190/727/747/bgr/170,1222/729/746/lblue/140,1254/708/729/lblue/180,1287/672/708/lblue/300,1319/672/686/bgr/120,1351/689/731/bgr/360,1383/730/755/bgr/200}{
 \fill[\col,rounded corners=.5pt] (\x-10.5,\va) rectangle (\x+10.5,\vb);
 \node[tw] at (\x,\va+8) {\s};}
\foreach \x/\s in {1062/2000年,1094/2001年,1126/2002年,1158/2003年,1190/2004年,1222/2005年,1254/2006年,1287/2007年,1319/2008年,1351/2009年,1383/2010年}{\node[tl,font=\fontsize{3.5}{4}\selectfont] at (\x,924) {\s};}
\end{scope}

% ---------- b7: grouped stacks ----------
\begin{scope}[shift={(1900,640)},zC]
\foreach \x/\s/\col in {62/DirectAccess/bbl,139/MailMarketing/bbl,226/NetworkAD/s4,300/VideoAD/bgr,362/SearchEngine/gbar,444/baidu/orange!60,491/google/orange!35,547/bing/orange!25!yellow!45,590/others/yellow!60}{\fill[\col] (\x-3,1127) rectangle (\x+3,1137);\node[tl,anchor=west] at (\x+8,1132) {\s};}
\foreach \y/\s in {1157/2000,1218/1500,1278/1000,1339/500}{\draw[fineg] (71,\y) -- (627,\y);\node[tl,anchor=east] at (68,\y) {\s};}
\node[tl,anchor=east] at (68,1400) {0};
\draw[fineg] (71,1400) -- (627,1400);
\foreach \x in {71,150,229,309,388,467,546,627}{\draw[fineg] (\x,1157) -- (\x,1400);}
\foreach \qx/\qa/\qb/\qc/\qd/\qe/\qf/\qg/\qh/\qi/\s in {
 71/1365/1385/1362/1345/1296/1325/1312/1303/1296/Mon,
 150/1361/1385/1365/1338/1278/1311/1298/1288/1278/Tues,
 229/1365/1390/1368/1345/1284/1315/1304/1294/1285/Wed,
 309/1360/1385/1360/1341/1276/1311/1296/1286/1276/Thur,
 388/1355/1390/1358/1335/1196/1267/1232/1209/1196/Fri,
 467/1361/1373/1335/1295/1198/1255/1226/1212/1198/Sat,
 546/1362/1375/1340/1290/1203/1257/1230/1217/1203/Sun}{
 \fill[bbl] (\qx+10,1400) rectangle (\qx+22,\qa);
 \fill[tbar!85] (\qx+26,\qd) rectangle (\qx+38,1400);
 \fill[c2] (\qx+26,\qc) rectangle (\qx+38,1400);
 \fill[bbl] (\qx+26,\qb) rectangle (\qx+38,1400);
 \fill[gbar] (\qx+42,\qe) rectangle (\qx+54,1400);
 \fill[yellow!55] (\qx+57,\qi) rectangle (\qx+69,1400);
 \fill[orange!35!yellow!45] (\qx+57,\qh) rectangle (\qx+69,1400);
 \fill[orange!30] (\qx+57,\qg) rectangle (\qx+69,1400);
 \fill[orange!55] (\qx+57,\qf) rectangle (\qx+69,1400);
 \node[tl] at (\qx+40,1412) {\s};}
\end{scope}

% ---------- junction dots ----------
\node[dotn] (n1) at (d1) {};
\node[dotn] (n2) at (d2) {};
\node[dotn] (n3) at (d3) {};
\node[dotn] (n4) at (d4) {};
\node[dotn] (n5) at (d5) {};
\node[dotn] (n6) at (d6) {};
\node[dotn] (n7) at (d7) {};
\node[dotn] (n8) at (d8) {};
\node[dotn] (n9) at (d9) {};
\node[dotn] (n10) at (d10) {};
\node[dotn] (n11) at (d11) {};
\node[dotn] (n12) at (d12) {};
\node[dotn] (n13) at (d13) {};

% ---------- labels ----------
\node[lab] (a1) at (232.5,288) {每项目两个变量};
\node[lab] (a2) at (528,258) {多种分类};
\node[lab] (a3) at (837,237) {多个项目};
\node[lab] (a4) at (1136,237) {少数项目};
\node[lab] (a5) at (990,292) {少数分类};
\node[lab] (a6) at (758,346) {每项目一个变量};
\node[lab] (a7) at (493,416) {基于分类};
\node[lab] (a8) at (1443,237) {循环数据};
\node[lab] (a9) at (1742,237) {非循环数据};
\node[lab] (a10) at (1585,295) {多周期};
\node[lab] (a11) at (1713,416) {基于时间};
\node[lab] (a12) at (2044,236.5) {单个或少数分类};
\node[lab] (a13) at (2336,236.5) {多种分类};
\node[lab] (a14) at (2181,295) {少周期};
\node[lab] (a15) at (494,547) {2个变量};
\node[lab] (a16) at (494,775) {3个变量};
\node[lab] (a17) at (696,856) {随时间变化};
\node[lab] (a18) at (1685,856) {静态};
\node[lab] (a19) at (404,939) {少数周期};
\node[lab] (a20) at (965,939) {多周期};
\node[lab] (a21) at (219,1038) {仅相对差异};
\node[lab] (a22) at (551,1038) {相对和绝对差异};
\node[lab] (a23) at (813,1038) {仅相对差异};
\node[lab] (a24) at (1146,1038) {相对和绝对差异};
\node[lab] (a25) at (1411.5,1038) {占总体的比例};
\node[lab] (a26) at (1742.5,1038) {累计或扣减到累计};
\node[lab] (a27) at (2032.5,1037) {构成的构成};

% ---------- logo ----------
\begin{scope}[shift={(2360,1155)},x=0.33333pt,y=-0.33333pt]
\fill[logod] (42,195) [rounded corners=10pt] -- (42,42) [sharp corners] -- (88,42) -- (88,85) -- (137,85) -- (137,130) -- (88,130) -- (88,195) -- cycle;
\fill[logol] (95,42) -- (195,42) [rounded corners=10pt] -- (195,195) [sharp corners] -- (148,195) -- (148,78) -- (95,78) -- cycle;
\end{scope}
\node[text=logod,font=\fontsize{39}{42}\selectfont\bfseries,inner sep=0pt] (lg1) at (2458,1194) {帆};
\node[text=logod,font=\fontsize{39}{42}\selectfont\bfseries,inner sep=0pt] (lg2) at (2506,1194) {软};
\node[text=gray!75,inner sep=0pt,anchor=west,font=\fontsize{12}{14}\selectfont\addfontfeature{LetterSpace=53}] (lg3) at (2372,1232) {让数据成为生产力！};
\end{tikzpicture}
\end{document}
